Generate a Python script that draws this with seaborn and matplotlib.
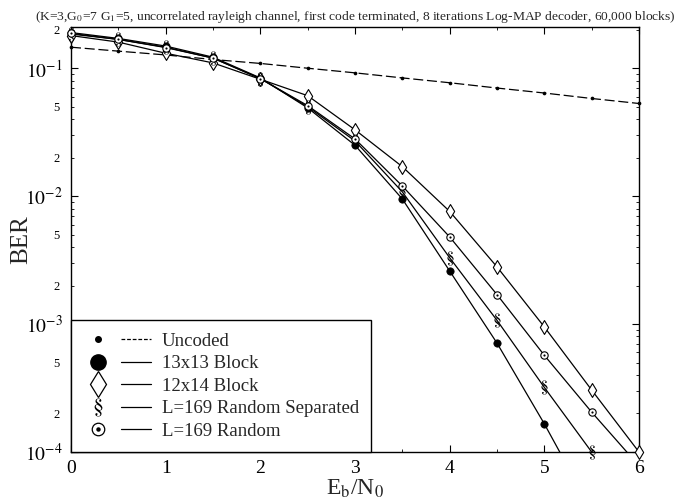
import numpy as np
import pandas as pd
import matplotlib
matplotlib.use("Agg")
import matplotlib.pyplot as plt
import seaborn as sns
from matplotlib.lines import Line2D
from matplotlib.legend_handler import HandlerTuple
from matplotlib.ticker import FixedLocator, FuncFormatter, MultipleLocator, LogLocator

# ---------------- data ----------------
ebno = [0.0, 0.5, 1.0, 1.5, 2.0, 2.5, 3.0, 3.5, 4.0, 4.5, 5.0, 5.5, 6.0]
uncoded = [0.146, 0.136, 0.127, 0.117, 0.109, 0.100, 0.092, 0.084, 0.077,
           0.070, 0.064, 0.058, 0.053]
block_13x13 = [0.190, 0.171, 0.149, 0.122, 0.084, 0.049, 0.025, 0.0095,
               0.0026, 0.00071, 0.000166, 0.000035]
block_12x14 = [0.180, 0.160, 0.131, 0.110, 0.082, 0.061, 0.033, 0.017,
               0.0076, 0.0028, 0.00095, 0.000305, 0.000100]
random_sep = [0.185, 0.168, 0.146, 0.120, 0.083, 0.050, 0.027, 0.0108,
              0.0033, 0.00107, 0.00032, 0.000100]
random_169 = [0.187, 0.168, 0.145, 0.120, 0.083, 0.051, 0.028, 0.012,
              0.0048, 0.0017, 0.00057, 0.000205, 0.000078]

labels = ["Uncoded", "13x13 Block", "12x14 Block",
          "L=169 Random Separated", "L=169 Random"]
title = ("(K=3,G$_0$=7 G$_1$=5, uncorrelated rayleigh channel, first code "
         "terminated, 8 iterations Log-MAP decoder, 60,000 blocks)")
y_major = [1e-4, 1e-3, 1e-2, 1e-1]
x_major = [0, 1, 2, 3, 4, 5, 6]

# ---------------- style ----------------
sns.set_style("ticks")
plt.rcParams["font.family"] = ["Liberation Serif", "DejaVu Serif"]
plt.rcParams["mathtext.fontset"] = "stix"

fig = plt.figure(figsize=(6.84, 5.0), dpi=100)
ax = fig.add_axes([71 / 684, 48 / 500, 568 / 684, 425 / 500])

YMIN, YMAX = 1e-4, 0.21
LW = 0.9


def xs(vals):
    return ebno[:len(vals)]


def visible(vals):
    x = np.array(xs(vals))
    y = np.array(vals)
    m = y >= YMIN * 0.98
    return x[m], y[m]


# lines
sns.lineplot(x=xs(uncoded), y=uncoded, ax=ax, color="black", lw=LW,
             linestyle=(0, (8, 3)), estimator=None, sort=False, legend=False)
for series in [block_13x13, block_12x14, random_sep, random_169]:
    sns.lineplot(x=xs(series), y=series, ax=ax, color="black", lw=LW,
                 estimator=None, sort=False, legend=False)

# markers
x, y = visible(uncoded)
sns.scatterplot(x=x, y=y, ax=ax, marker="o", s=7, color="black",
                edgecolor="black", linewidth=0, zorder=5, clip_on=False,
                legend=False)
x, y = visible(block_13x13)
sns.scatterplot(x=x, y=y, ax=ax, marker="o", s=28, color="black",
                edgecolor="black", linewidth=0.5, zorder=6, clip_on=False,
                legend=False)
x, y = visible(block_12x14)
sns.scatterplot(x=x, y=y, ax=ax, marker="d", s=50, facecolor="white",
                edgecolor="black", linewidth=0.8, zorder=6, clip_on=False,
                legend=False)
x, y = visible(random_sep)
sns.scatterplot(x=x, y=y, ax=ax, marker="$§$", s=105, color="black",
                edgecolor="black", linewidth=0, zorder=6, clip_on=False,
                legend=False)
x, y = visible(random_169)
sns.scatterplot(x=x, y=y, ax=ax, marker="o", s=28, facecolor="white",
                edgecolor="black", linewidth=0.8, zorder=6, clip_on=False,
                legend=False)
sns.scatterplot(x=x, y=y, ax=ax, marker="o", s=2.5, color="black",
                edgecolor="black", linewidth=0, zorder=7, clip_on=False,
                legend=False)

# ---------------- axes ----------------
ax.set_yscale("log")
ax.set_xlim(0, 6)
ax.set_ylim(YMIN, YMAX)

ax.xaxis.set_major_locator(FixedLocator(x_major))
ax.xaxis.set_minor_locator(MultipleLocator(0.5))
ax.set_xticklabels([str(v) for v in x_major])

ax.yaxis.set_major_locator(FixedLocator(y_major))
ax.yaxis.set_major_formatter(
    FuncFormatter(lambda v, p: r"$10^{%d}$" % int(round(np.log10(v)))))
ax.yaxis.set_minor_locator(LogLocator(base=10, subs=np.arange(2, 10)))


def minor_fmt(v, p):
    if v <= 0:
        return ""
    mant = v / 10 ** np.floor(np.log10(v) + 1e-9)
    m = int(round(mant))
    return str(m) if m in (2, 5) else ""


ax.yaxis.set_minor_formatter(FuncFormatter(minor_fmt))

ax.tick_params(axis="both", which="both", direction="in", top=True,
               right=True, colors="black")
ax.tick_params(axis="both", which="major", length=5, width=0.8)
ax.tick_params(axis="both", which="minor", length=2.5, width=0.6)
ax.tick_params(axis="x", which="major", labelsize=14, pad=6)
ax.tick_params(axis="y", which="major", labelsize=14, pad=6)
ax.tick_params(axis="y", which="minor", labelsize=9, pad=8)

for sp in ax.spines.values():
    sp.set_linewidth(1.0)
    sp.set_color("black")

ax.set_xlabel(r"E$_\mathrm{b}$/N$_0$", fontsize=17, labelpad=0)
ax.set_ylabel("BER", fontsize=18)
ax.yaxis.set_label_coords(-0.068, 0.5)
ax.set_title(title, fontsize=9.7, pad=5)

# ---------------- legend ----------------
class Overlay(tuple):
    pass


def line_h(ls="-"):
    return Line2D([], [], color="black", lw=LW, linestyle=ls)


h_unc = (Line2D([], [], marker="o", ms=4, color="black", ls="None"),
         line_h((0, (3, 1.5))))
h_13 = (Line2D([], [], marker="o", ms=11, color="black", ls="None"),
        line_h())
h_12 = (Line2D([], [], marker="d", ms=13, mfc="white", mec="black",
               mew=0.9, ls="None"), line_h())
h_sep = (Line2D([], [], marker="$§$", ms=13, mew=0, color="black",
                ls="None"), line_h())
h_rnd = (Overlay((Line2D([], [], marker="o", ms=9, mfc="white", mec="black",
                         mew=0.9, ls="None"),
                  Line2D([], [], marker="o", ms=2.2, color="black",
                         ls="None"))),
         line_h())

leg = ax.legend([h_unc, h_13, h_12, h_sep, h_rnd], labels,
                handler_map={tuple: HandlerTuple(ndivide=None, pad=0.45),
                             Overlay: HandlerTuple(ndivide=1)},
                loc="lower left", bbox_to_anchor=(0, 0), borderaxespad=0,
                fontsize=13.5, frameon=True, fancybox=False, framealpha=1,
                edgecolor="black", handlelength=3.6, handletextpad=0.6,
                labelspacing=0.29, borderpad=0.65)
leg.get_frame().set_linewidth(1.0)

fig.savefig("out.png", dpi=100)
